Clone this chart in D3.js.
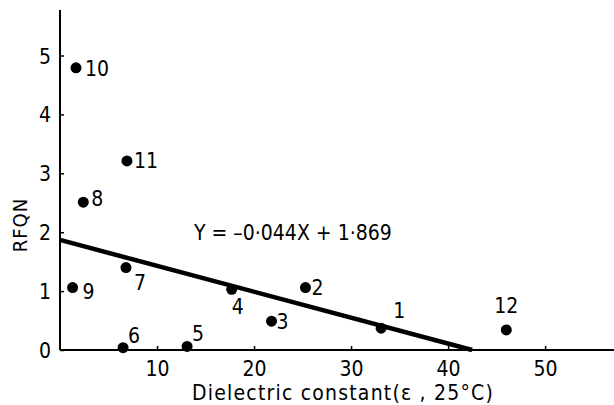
<!DOCTYPE html>
<html>
<head>
<meta charset="utf-8">
<script src="https://cdn.jsdelivr.net/npm/d3@7"></script>
<style>
  body { margin: 0; background: #fff; }
  svg text { font-family: "DejaVu Sans Condensed", "DejaVu Sans", sans-serif; fill: #000; }
</style>
</head>
<body>
<svg id="chart"></svg>
<script>
// solvent number, dielectric constant, RFQN
const solventIds = ["1", "2", "3", "4", "5", "6", "7", "8", "9", "10", "11", "12"];
const dielectric = [33.1, 25.3, 21.8, 17.7, 13.1, 6.5, 6.8, 2.4, 1.3, 1.65, 6.9, 46.0];
const rfqn = [0.37, 1.06, 0.49, 1.03, 0.06, 0.04, 1.40, 2.51, 1.06, 4.79, 3.21, 0.34];
// label offsets from each point (px)
const labelOffsets = [[12, -10], [6, 7], [5, 8], [0, 25], [5, -5], [5, -5], [8, 22], [8, 4], [10, 11], [9, 8], [7, 7], [0, -17]];

const xTicks = [10, 20, 30, 40, 50];
const yTicks = [0, 1, 2, 3, 4, 5];
const slope = -0.044, intercept = 1.869;

const width = 614, height = 405;
const margin = { top: 10, right: 0, bottom: 55, left: 60 };

const svg = d3.select("#chart").attr("width", width).attr("height", height);

const x = d3.scaleLinear().domain([0, 57.1]).range([margin.left, width - margin.right]);
const y = d3.scaleLinear().domain([0, 5.0]).range([height - margin.bottom, 55.5]);
const yTop = y.invert(margin.top);

// axes
const xAxis = svg.append("g")
    .attr("transform", `translate(0, ${y(0)})`)
    .call(d3.axisBottom(x).tickValues(xTicks).tickFormat(d3.format("d")).tickSize(-4).tickPadding(11).tickSizeOuter(0));
const yAxis = svg.append("g")
    .attr("transform", `translate(${x(0)}, 0)`)
    .call(d3.axisLeft(y).tickValues(yTicks).tickFormat(d3.format("d")).tickSize(-4).tickPadding(9).tickSizeOuter(0));

[xAxis, yAxis].forEach(g => {
    g.select(".domain").attr("stroke", "#000").attr("stroke-width", 2);
    g.selectAll(".tick line").attr("stroke", "#000").attr("stroke-width", 1.5);
    g.selectAll(".tick text").attr("font-size", 21).attr("font-family", "DejaVu Sans Condensed");
});
// extend y axis to top, x axis to right edge
yAxis.select(".domain").attr("d", `M0,${y(0)}V${y(yTop)}`);
yAxis.selectAll(".tick text").attr("dy", "0.36em");
xAxis.select(".domain").attr("d", `M${x(0)},0H${width}`);

// regression line
const xEnd = -intercept / slope;
svg.append("line")
    .attr("x1", x(0)).attr("y1", y(intercept))
    .attr("x2", x(xEnd)).attr("y2", y(slope * xEnd + intercept))
    .attr("stroke", "#000").attr("stroke-width", 4.5);

// points
const pts = solventIds.map((id, i) => ({ id, x: dielectric[i], y: rfqn[i], off: labelOffsets[i] }));
svg.selectAll("circle.pt")
    .data(pts)
    .enter()
    .append("circle")
    .attr("class", "pt")
    .attr("cx", d => x(d.x))
    .attr("cy", d => y(d.y))
    .attr("r", 5.5)
    .attr("fill", "#000");

svg.selectAll("text.lbl")
    .data(pts)
    .enter()
    .append("text")
    .attr("class", "lbl")
    .attr("x", d => x(d.x) + d.off[0])
    .attr("y", d => y(d.y) + d.off[1])
    .attr("text-anchor", d => d.id === "12" ? "middle" : "start")
    .attr("font-size", 21)
    .text(d => d.id);

// equation
svg.append("text")
    .attr("x", 194).attr("y", 240)
    .attr("font-size", 21)
    .text("Y = \u20130\u00b7044X + 1\u00b7869");

// axis titles
svg.append("text")
    .attr("x", 192).attr("y", 400)
    .attr("font-size", 21)
    .attr("letter-spacing", 1.2)
    .text("Dielectric  constant(\u03b5 , 25\u00b0C)");

svg.append("text")
    .attr("transform", "translate(27, 225) rotate(-90)")
    .attr("text-anchor", "middle")
    .attr("font-size", 20)
    .attr("letter-spacing", 1)
    .text("RFQN");
</script>
</body>
</html>
